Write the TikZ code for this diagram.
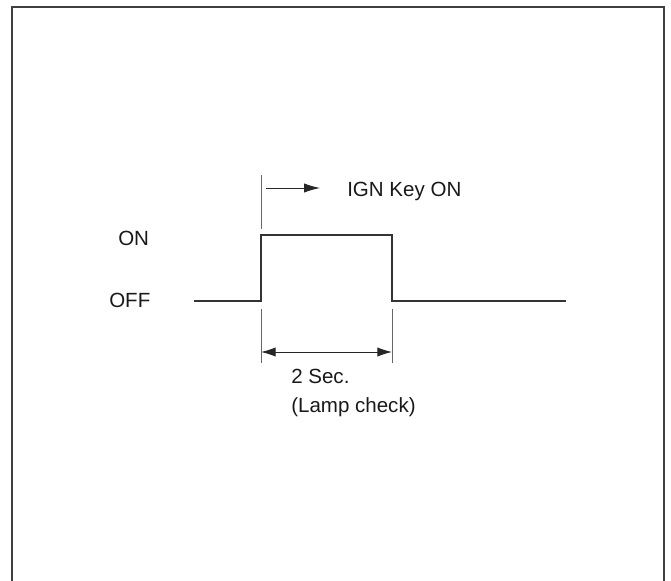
\documentclass[tikz,border=0pt]{standalone}
\usepackage{fontspec}
\setmainfont{Liberation Sans}
\usetikzlibrary{arrows.meta}

\begin{document}
\begin{tikzpicture}[
      x=0.75pt, y=-0.75pt,
      font=\fontsize{15.4}{18}\selectfont,
      txt/.style={inner sep=0pt, anchor=base west, text=black!90},
      frame/.style={line width=1.4pt, draw=black!75},
      signal/.style={line width=1.5pt, draw=black!80, line join=miter},
      tick/.style={line width=0.6pt, draw=black!60},
      arrow/.style={-{Latex[length=12pt, width=7pt]}, line width=0.7pt, draw=black!85},
      dimline/.style={{Latex[length=11pt, width=7pt]}-{Latex[length=11pt, width=7pt]}, line width=0.7pt, draw=black!85}
    ]
    \useasboundingbox (0,0) rectangle (671,581);
    \draw[frame] (12,581) -- (12,7) -- (664,7) -- (664,581);

    \coordinate (start) at (194,301);
    \coordinate (rise) at (261,301);
    \coordinate (fall) at (392,301);
    \coordinate (stop) at (566,301);
    \coordinate (keyfrom) at (266,188);
    \coordinate (keyto) at (320,188);
    \coordinate (dimleft) at (261,352);
    \coordinate (dimright) at (392,352);

    \node[txt] (on) at (118,245) {ON};
    \node[txt] (off) at (109,307) {OFF};
    \node[txt] (ign) at (347,197) {IGN Key ON};
    \node[txt] (sec) at (291,383) {2 Sec.};
    \node[txt] (lamp) at (291,412) {(Lamp check)};

    \draw[signal] (start) -- (rise) -- ++(0,-66) -| (fall) -- (stop);
    \draw[tick] (261,175) -- (261,229);
    \draw[tick] (261,309) -- (261,363);
    \draw[tick] (392,309) -- (392,363);
    \draw[arrow] (keyfrom) -- (keyto);
    \draw[dimline] (dimleft) -- (dimright);
  \end{tikzpicture}
\end{document}
